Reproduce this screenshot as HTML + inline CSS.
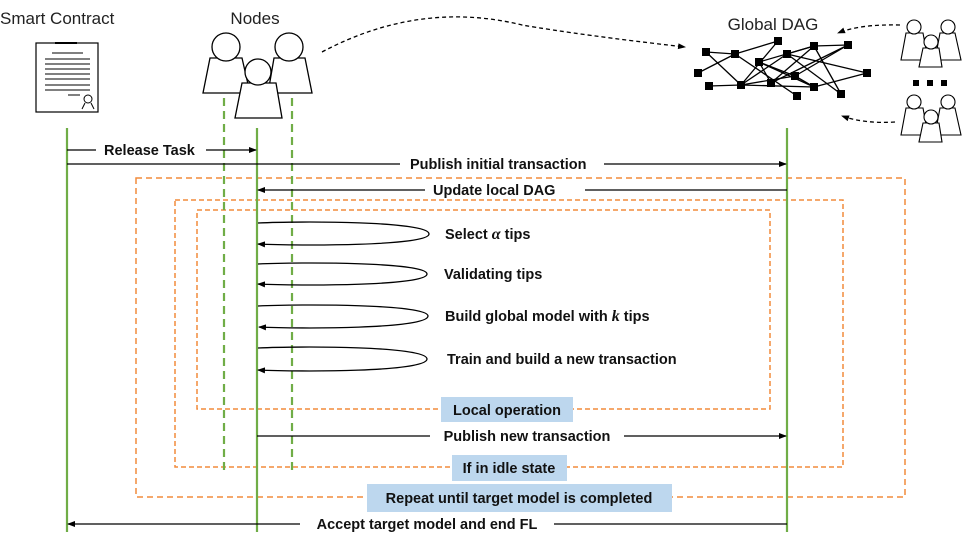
<!DOCTYPE html>
<html><head><meta charset="utf-8"><style>
html,body{margin:0;padding:0;background:#fff;}
svg{display:block;}
.t{font-family:"Liberation Sans",sans-serif;font-size:14.5px;font-weight:bold;fill:#111;}
.h{font-family:"Liberation Sans",sans-serif;font-size:17px;fill:#222;}
</style></head><body>
<svg width="969" height="545" viewBox="0 0 969 545" xmlns="http://www.w3.org/2000/svg">
<defs>
<marker id="a" markerWidth="8" markerHeight="8" refX="7" refY="4" orient="auto" markerUnits="userSpaceOnUse"><path d="M0,1 L8,4 L0,7 z" fill="#000"/></marker>
</defs>
<text class="h" x="0" y="24">Smart Contract</text>
<text class="h" x="255" y="24" text-anchor="middle">Nodes</text>
<text class="h" x="773" y="30" text-anchor="middle">Global DAG</text>

<!-- contract -->
<rect x="36" y="43" width="62" height="69" fill="#fff" stroke="#000" stroke-width="1.2"/>
<line x1="55" y1="43" x2="77" y2="43" stroke="#000" stroke-width="2"/>
<g stroke="#000" stroke-width="1">
<line x1="52" y1="53" x2="83" y2="53"/>
<line x1="45" y1="59" x2="90" y2="59"/><line x1="45" y1="64" x2="90" y2="64"/><line x1="45" y1="69" x2="90" y2="69"/><line x1="45" y1="74" x2="90" y2="74"/><line x1="45" y1="79" x2="90" y2="79"/><line x1="45" y1="85" x2="90" y2="85"/><line x1="45" y1="90" x2="90" y2="90"/>
<line x1="68" y1="95" x2="80" y2="95"/>
<circle cx="88" cy="99" r="4" fill="none"/>
<path d="M85,103 L82,109 M91,103 L94,109" fill="none"/>
</g>

<!-- people nodes -->
<g fill="#fff" stroke="#000" stroke-width="1.3">
<path d="M210,58 L242,58 L250,93 L203,93 Z"/><circle cx="226" cy="47" r="14"/>
<path d="M274,58 L305,58 L312,93 L268,93 Z"/><circle cx="289" cy="47" r="14"/>
<path d="M242,83 L276,83 L282,118 L235,118 Z"/><circle cx="258" cy="72" r="13"/>
</g>

<!-- small people groups -->
<g fill="#fff" stroke="#000" stroke-width="1.1">
<g transform="translate(900,20)">
<path d="M6,13 L23,13 L28,40 L1,40 Z"/><circle cx="14" cy="7" r="7"/>
<path d="M40,13 L55,13 L61,40 L35,40 Z"/><circle cx="48" cy="7" r="7"/>
<path d="M23,28 L39,28 L42,47 L19,47 Z"/><circle cx="31" cy="22" r="7"/>
</g>
<g transform="translate(900,95)">
<path d="M6,13 L23,13 L28,40 L1,40 Z"/><circle cx="14" cy="7" r="7"/>
<path d="M40,13 L55,13 L61,40 L35,40 Z"/><circle cx="48" cy="7" r="7"/>
<path d="M23,28 L39,28 L42,47 L19,47 Z"/><circle cx="31" cy="22" r="7"/>
</g>
</g>
<rect x="913" y="80" width="6" height="6" fill="#000"/><rect x="927" y="80" width="6" height="6" fill="#000"/><rect x="941" y="80" width="6" height="6" fill="#000"/>

<!-- dashed curves -->
<g fill="none" stroke="#000" stroke-width="1.3" stroke-dasharray="4,3">
<path d="M322,52 Q420,0 522,25 Q580,35 685,47" marker-end="url(#a)"/>
<path d="M900,25 Q860,24 838,33" marker-end="url(#a)"/>
<path d="M895,122 Q865,124 842,116" marker-end="url(#a)"/>
</g>

<!-- DAG -->
<g stroke="#000" stroke-width="1.3">
<line x1="706" y1="52" x2="735" y2="54"/><line x1="706" y1="52" x2="741" y2="85"/>
<line x1="698" y1="73" x2="735" y2="54"/><line x1="709" y1="86" x2="741" y2="85"/>
<line x1="735" y1="54" x2="778" y2="41"/><line x1="735" y1="54" x2="797" y2="96"/>
<line x1="741" y1="85" x2="778" y2="41"/><line x1="741" y1="85" x2="787" y2="54"/>
<line x1="741" y1="85" x2="814" y2="87"/><line x1="741" y1="85" x2="795" y2="76"/>
<line x1="759" y1="62" x2="814" y2="46"/><line x1="759" y1="62" x2="795" y2="76"/>
<line x1="759" y1="62" x2="771" y2="83"/><line x1="759" y1="62" x2="814" y2="87"/>
<line x1="771" y1="83" x2="814" y2="46"/><line x1="771" y1="83" x2="848" y2="45"/>
<line x1="787" y1="54" x2="841" y2="94"/><line x1="787" y1="54" x2="814" y2="46"/>
<line x1="795" y1="76" x2="814" y2="87"/><line x1="814" y1="46" x2="848" y2="45"/>
<line x1="814" y1="46" x2="841" y2="94"/><line x1="814" y1="87" x2="867" y2="73"/>
<line x1="795" y1="76" x2="848" y2="45"/><line x1="787" y1="54" x2="867" y2="73"/>
</g>
<g fill="#000">
<rect x="702" y="48" width="8" height="8"/><rect x="694" y="69" width="8" height="8"/><rect x="705" y="82" width="8" height="8"/>
<rect x="731" y="50" width="8" height="8"/><rect x="737" y="81" width="8" height="8"/><rect x="774" y="37" width="8" height="8"/>
<rect x="755" y="58" width="8" height="8"/><rect x="783" y="50" width="8" height="8"/><rect x="767" y="79" width="8" height="8"/>
<rect x="791" y="72" width="8" height="8"/><rect x="793" y="92" width="8" height="8"/><rect x="810" y="42" width="8" height="8"/>
<rect x="844" y="41" width="8" height="8"/><rect x="810" y="83" width="8" height="8"/><rect x="863" y="69" width="8" height="8"/>
<rect x="837" y="90" width="8" height="8"/>
</g>

<!-- orange boxes -->
<g fill="none" stroke="#f28c3c" stroke-width="1.5" stroke-dasharray="6,4">
<rect x="136" y="178" width="769" height="319"/>
</g>
<g fill="none" stroke="#f28c3c" stroke-width="1.5" stroke-dasharray="5,3">
<rect x="175" y="200" width="668" height="267"/>
<rect x="197" y="210" width="573" height="199"/>
</g>

<!-- lifelines -->
<g stroke="#70ad47" stroke-width="2.2">
<line x1="67" y1="128" x2="67" y2="532"/>
<line x1="257" y1="128" x2="257" y2="532"/>
<line x1="787" y1="128" x2="787" y2="532"/>
</g>
<g stroke="#70ad47" stroke-width="2.2" stroke-dasharray="8,5">
<line x1="224" y1="98" x2="224" y2="470"/>
<line x1="292" y1="98" x2="292" y2="470"/>
</g>

<!-- messages -->
<g stroke="#000" stroke-width="1.3" fill="none">
<line x1="67" y1="150" x2="96" y2="150"/><line x1="206" y1="150" x2="256" y2="150" marker-end="url(#a)"/>
<line x1="67" y1="164" x2="400" y2="164"/><line x1="604" y1="164" x2="786" y2="164" marker-end="url(#a)"/>
<line x1="787" y1="190" x2="585" y2="190"/><line x1="425" y1="190" x2="258" y2="190" marker-end="url(#a)"/>
<path d="M258,223 C300,221 429,221 429,234 C429,246 300,246 258,244" marker-end="url(#a)"/>
<path d="M258,264 C300,262 427,262 427,274 C427,286 300,286 258,284" marker-end="url(#a)"/>
<path d="M258,306 C300,304 428,304 428,316 C428,329 300,329 259,327" marker-end="url(#a)"/>
<path d="M258,348 C300,346 427,346 427,359 C427,372 300,372 258,370" marker-end="url(#a)"/>
<line x1="257" y1="436" x2="430" y2="436"/><line x1="624" y1="436" x2="786" y2="436" marker-end="url(#a)"/>
<line x1="787" y1="524" x2="554" y2="524"/><line x1="300" y1="524" x2="68" y2="524" marker-end="url(#a)"/>
</g>

<text class="t" x="104" y="155">Release Task</text>
<text class="t" x="410" y="169">Publish initial transaction</text>
<text class="t" x="433" y="195">Update local DAG</text>
<text class="t" x="445" y="239">Select <tspan font-family="Liberation Serif" font-style="italic" font-size="16">α</tspan> tips</text>
<text class="t" x="444" y="279">Validating tips</text>
<text class="t" x="445" y="321">Build global model with <tspan font-family="Liberation Serif" font-style="italic" font-size="16">k</tspan> tips</text>
<text class="t" x="447" y="364">Train and build a new transaction</text>

<rect x="441" y="397" width="132" height="25" fill="#bdd7ee"/>
<text class="t" x="507" y="415" text-anchor="middle">Local operation</text>
<text class="t" x="527" y="441" text-anchor="middle">Publish new transaction</text>
<rect x="452" y="455" width="115" height="26" fill="#bdd7ee"/>
<text class="t" x="509" y="473" text-anchor="middle">If in idle state</text>
<rect x="367" y="484" width="305" height="28" fill="#bdd7ee"/>
<text class="t" x="519" y="503" text-anchor="middle">Repeat until target model is completed</text>
<text class="t" x="427" y="529" text-anchor="middle">Accept target model and end FL</text>
</svg>
</body></html>
